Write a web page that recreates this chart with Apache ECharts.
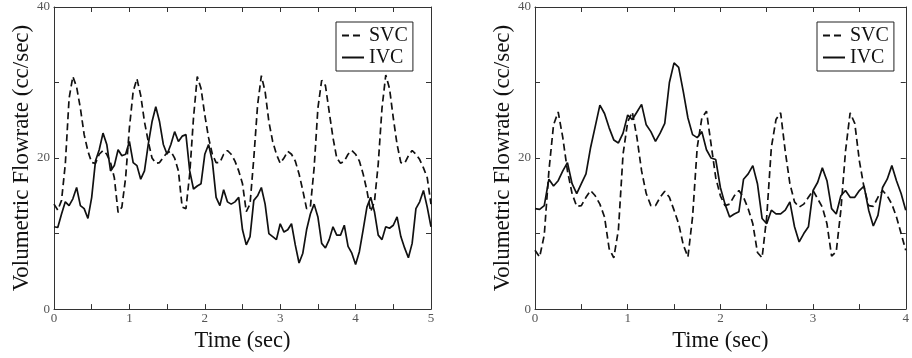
<!DOCTYPE html>
<html>
<head>
<meta charset="utf-8">
<script src="https://cdn.jsdelivr.net/npm/echarts@6/dist/echarts.min.js"></script>
<style>
html,body{margin:0;padding:0;background:#fff;}
#c{width:912px;height:358px;}
</style>
</head>
<body>
<div id="c"></div>
<script>
// sampling step (seconds) of both recordings
const sampleStep = 0.05;

// Left panel (0-5 s)
const leftSVC = [
  13.9,13.1,14.4,19.2,27.9,30.8,29.4,26.6,23.1,20.9,19.4,19.3,20.5,21.0,20.5,19.4,17.4,12.8,13.5,17.4,
  24.0,28.8,30.5,28.3,24.8,22.2,20.0,19.3,19.4,20.1,20.7,20.9,20.0,18.3,13.5,13.3,17.9,25.3,30.8,29.2,
  25.7,22.7,20.5,19.4,19.4,20.5,21.0,20.5,19.6,18.3,16.6,12.9,13.9,20.0,27.0,30.9,28.8,24.8,22.2,20.5,
  19.3,20.0,20.9,20.5,19.6,17.9,15.7,13.3,13.5,18.7,26.6,30.3,29.6,26.1,22.7,20.0,19.3,19.6,20.5,21.0,
  20.5,19.6,17.9,15.7,12.9,14.2,19.2,26.6,31.0,29.2,25.3,21.8,19.4,19.3,20.3,21.0,20.5,19.8,18.7,17.4,13.9
];
const leftIVC = [
  10.9,10.8,12.6,14.2,13.7,14.6,16.1,13.7,13.3,12.0,14.8,19.6,21.1,23.3,21.8,18.3,19.0,21.1,20.3,20.5,
  22.2,19.4,19.0,17.2,18.3,21.8,24.8,26.8,24.8,21.8,20.5,21.8,23.5,22.2,22.9,23.1,18.3,15.9,16.3,16.6,
  20.5,21.8,19.6,14.8,13.7,15.8,14.2,13.9,14.2,14.8,10.5,8.5,9.6,14.4,15.0,16.1,13.9,10.0,9.6,9.2,
  11.3,10.2,10.5,11.3,8.5,6.1,7.4,10.5,12.6,13.9,12.2,8.7,8.1,9.2,10.9,9.8,9.8,11.1,8.3,7.4,
  5.9,7.6,10.5,13.5,14.8,12.9,9.8,9.2,10.9,10.7,11.1,12.2,9.6,8.1,6.8,8.7,13.3,14.2,15.7,13.5,10.9
];

// Right panel (0-4 s)
const rightSVC = [
  7.8,6.9,9.8,18.3,24.4,26.1,22.7,18.3,15.3,13.6,13.7,14.8,15.7,15.0,13.9,12.2,8.0,6.8,10.5,20.5,
  24.8,26.1,22.7,18.3,15.3,13.7,13.7,14.8,15.6,14.8,13.1,11.3,8.5,6.9,12.2,21.4,25.3,26.2,21.8,17.4,
  15.0,13.7,13.9,15.0,15.7,14.8,13.3,11.3,7.5,6.8,12.2,21.4,25.1,26.0,20.9,16.6,14.2,13.5,13.9,14.8,
  15.7,14.6,13.5,11.3,7.0,7.6,13.1,20.9,26.0,24.6,19.6,16.1,13.7,13.6,14.8,15.7,15.0,13.9,12.2,10.0,7.8
];
const rightIVC = [
  13.3,13.2,13.7,17.2,16.3,17.0,18.3,19.4,16.6,15.3,16.6,17.9,21.4,24.2,27.0,25.9,24.0,22.4,22.0,23.3,
  25.7,25.1,26.1,27.1,24.4,23.5,22.2,23.3,24.6,30.0,32.6,32.0,28.8,25.3,23.1,22.7,23.5,21.1,20.0,19.8,
  16.1,13.9,12.2,12.6,12.9,17.2,17.9,19.0,16.6,12.0,11.3,13.1,12.6,12.6,13.1,14.2,10.9,8.9,10.0,10.9,
  15.7,16.8,18.7,17.0,13.3,12.6,15.0,15.7,14.8,14.8,15.7,16.3,13.1,11.0,12.4,16.1,17.2,19.0,17.0,15.3,13.1
];

const seriesNames = ['SVC', 'IVC'];
const xTitle = 'Time (sec)';
const yTitle = 'Volumetric Flowrate (cc/sec)';
const leftXMax = 5, rightXMax = 4;
const yMin = 0, yMax = 40;

function pairs(vals) {
  return vals.map((v, i) => [Math.round(i * sampleStep * 100) / 100, v]);
}

const SERIF = '"Liberation Serif", "DejaVu Serif", serif';
const FRAME = '#333';

function xAx(gi, max, top) {
  return {
    type: 'value', gridIndex: gi, min: 0, max: max, interval: 0.5,
    position: top ? 'top' : 'bottom',
    axisLine: { show: true, onZero: false, lineStyle: { color: FRAME, width: 1 } },
    axisTick: { show: true, inside: true, length: 5, lineStyle: { color: FRAME } },
    splitLine: { show: false },
    axisLabel: top ? { show: false } : {
      show: true, margin: 3, fontSize: 13, color: '#555', fontFamily: SERIF,
      formatter: v => (Math.abs(v - Math.round(v)) < 1e-6 ? String(Math.round(v)) : '')
    },
    name: top ? '' : xTitle, nameLocation: 'middle', nameGap: 15,
    nameTextStyle: { fontSize: 22.5, color: '#111', fontFamily: SERIF }
  };
}
function yAx(gi, right) {
  return {
    type: 'value', gridIndex: gi, min: yMin, max: yMax, interval: 10,
    position: right ? 'right' : 'left',
    axisLine: { show: true, onZero: false, lineStyle: { color: FRAME, width: 1 } },
    axisTick: { show: true, inside: true, length: 5, lineStyle: { color: FRAME } },
    splitLine: { show: false },
    axisLabel: right ? { show: false } : {
      show: true, margin: 4, fontSize: 13, color: '#555', fontFamily: SERIF,
      formatter: v => (v % 20 === 0 ? String(v) : '')
    },
    name: right ? '' : yTitle, nameLocation: 'middle', nameGap: 21,
    nameTextStyle: { fontSize: 23, color: '#111', fontFamily: SERIF }
  };
}
function legendAt(left) {
  return {
    data: seriesNames, orient: 'vertical', left: left, top: 22,
    padding: [3, 5, 3, 5], itemGap: 1, itemWidth: 22, itemHeight: 14,
    borderColor: '#222', borderWidth: 1, backgroundColor: '#fff',
    selectedMode: false,
    itemStyle: { opacity: 0, borderWidth: 0 },
    textStyle: { fontSize: 20, color: '#111', fontFamily: SERIF, lineHeight: 21 }
  };
}
function line(name, xi, yi, vals, dashed) {
  return {
    name: name, type: 'line', xAxisIndex: xi, yAxisIndex: yi,
    data: pairs(vals), symbol: 'none', animation: false,
    lineStyle: { color: '#111', width: 1.7, type: dashed ? [7, 4] : 'solid' },
    itemStyle: { color: '#111' }
  };
}

const chart = echarts.init(document.getElementById('c'), null, { renderer: 'canvas' });
chart.setOption({
  backgroundColor: '#fff',
  animation: false,
  grid: [
    { left: 54, top: 7, width: 377, height: 306 },
    { left: 535, top: 7, width: 376, height: 306 }
  ],
  xAxis: [xAx(0, leftXMax, false), xAx(0, leftXMax, true), xAx(1, rightXMax, false), xAx(1, rightXMax, true)],
  yAxis: [yAx(0, false), yAx(0, true), yAx(1, false), yAx(1, true)],
  legend: [legendAt(336), legendAt(817)],
  series: [
    line(seriesNames[0], 0, 0, leftSVC, true),
    line(seriesNames[1], 0, 0, leftIVC, false),
    line(seriesNames[0], 2, 2, rightSVC, true),
    line(seriesNames[1], 2, 2, rightIVC, false)
  ]
});
</script>
</body>
</html>
